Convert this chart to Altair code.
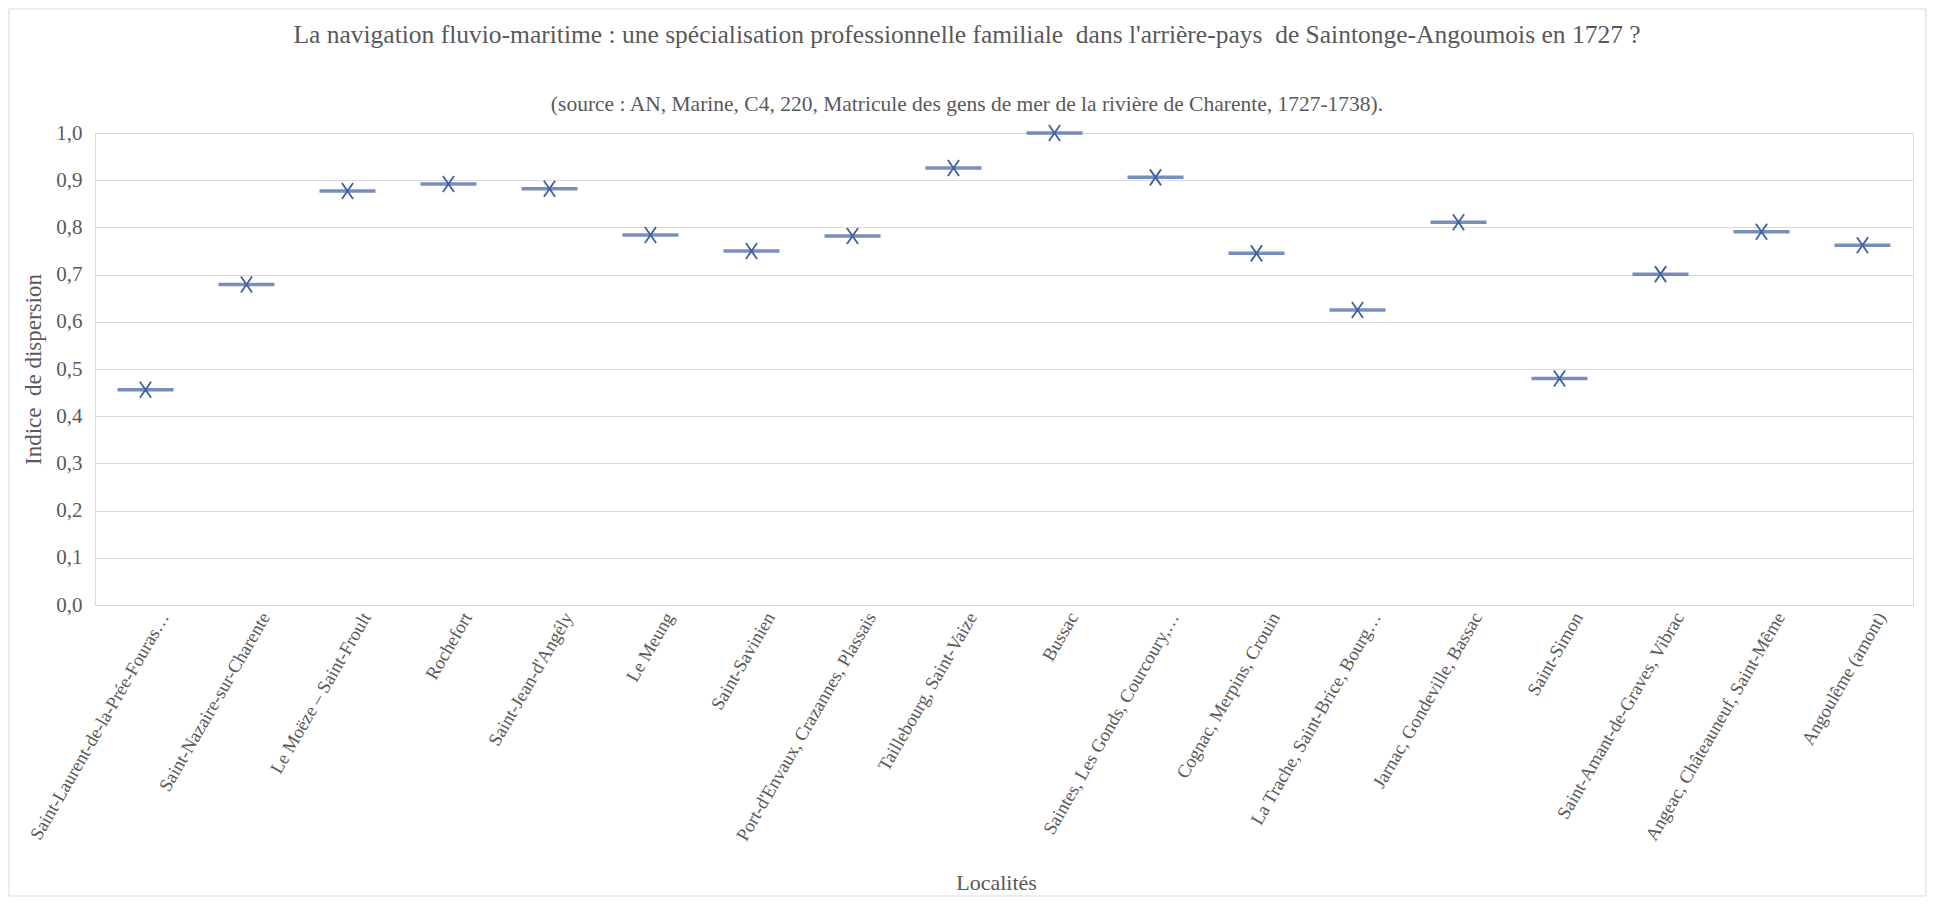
import altair as alt
import pandas as pd

categories = [
    "Saint-Laurent-de-la-Prée-Fouras…",
    "Saint-Nazaire-sur-Charente",
    "Le Moëze – Saint-Froult",
    "Rochefort",
    "Saint-Jean-d'Angély",
    "Le Meung",
    "Saint-Savinien",
    "Port-d'Envaux, Crazannes, Plassais",
    "Taillebourg, Saint-Vaize",
    "Bussac",
    "Saintes, Les Gonds, Courcoury,…",
    "Cognac, Merpins, Crouin",
    "La Trache, Saint-Brice, Bourg…",
    "Jarnac, Gondeville, Bassac",
    "Saint-Simon",
    "Saint-Amant-de-Graves, Vibrac",
    "Angeac, Châteauneuf, Saint-Même",
    "Angoulême (amont)",
]
values = [0.456, 0.679, 0.877, 0.892, 0.882, 0.784, 0.750, 0.782, 0.926,
          1.000, 0.906, 0.745, 0.625, 0.811, 0.480, 0.701, 0.791, 0.762]
y_ticks = [0.0, 0.1, 0.2, 0.3, 0.4, 0.5, 0.6, 0.7, 0.8, 0.9, 1.0]

title_text = ("La navigation fluvio-maritime : une spécialisation professionnelle familiale\u00a0 "
              "dans l'arrière-pays\u00a0 de Saintonge-Angoumois en 1727 ?")
subtitle_text = ("(source : AN, Marine, C4, 220, Matricule des gens de mer de la rivière "
                 "de Charente, 1727-1738).")

df = pd.DataFrame({"Localité": categories, "Indice": values})

FONT = "Liberation Serif"
GREY = "#595959"
BLUE = "#3F5F9E"
W, H = 1818, 472

x_enc = alt.X(
    "Localité:N",
    sort=categories,
    title="Localités",
    axis=alt.Axis(
        labelAngle=-60,
        labelAlign="right",
        labelBaseline="top",
        labelPadding=4,
        labelOffset=11,
        labelLimit=400,
        labelFont=FONT,
        labelFontSize=18.5,
        labelColor=GREY,
        ticks=False,
        domainColor="#D9D9D9",
        titleFont=FONT,
        titleFontSize=22,
        titleFontWeight="normal",
        titleColor=GREY,
        titleY=267,
        titleX=W / 2 - 8,
        titleBaseline="top",
    ),
    scale=alt.Scale(paddingInner=0, paddingOuter=0),
)
y_enc = alt.Y(
    "Indice:Q",
    title="Indice\u00a0 de dispersion",
    scale=alt.Scale(domain=[0, 1], nice=False),
    axis=alt.Axis(
        values=y_ticks,
        labelExpr="replace(format(datum.value, '.1f'), '.', ',')",
        labelFont=FONT,
        labelFontSize=21,
        labelColor=GREY,
        labelPadding=13,
        ticks=False,
        domain=True,
        domainColor="#D9D9D9",
        gridColor="#D9D9D9",
        gridWidth=1,
        titleFont=FONT,
        titleFontSize=23,
        titleFontWeight="normal",
        titleColor=GREY,
        titleX=-62,
        titleBaseline="middle",
    ),
)

base = alt.Chart(df)
dash = base.mark_tick(orient="horizontal", size=56, thickness=3.5, color=BLUE).encode(x=x_enc, y=y_enc)
cross = base.mark_point(
    shape="M-0.7,-1L0.7,1M0.7,-1L-0.7,1",
    filled=False,
    size=256,
    strokeWidth=1.8,
    color=BLUE,
    opacity=1,
).encode(x=x_enc, y=y_enc)

one = pd.DataFrame({"b": [0]})
border = alt.Chart(one).mark_rect(
    fillOpacity=0, stroke="#D9D9D9", strokeWidth=1
).encode(
    x=alt.value(-86), x2=alt.value(W + 13), y=alt.value(-124), y2=alt.value(H + 291)
)
title_mark = alt.Chart(pd.DataFrame({"t": [title_text]})).mark_text(
    font=FONT, fontSize=25.5, color=GREY, align="center", baseline="middle"
).encode(text="t:N", x=alt.value(872), y=alt.value(-98))
subtitle_mark = alt.Chart(pd.DataFrame({"t": [subtitle_text]})).mark_text(
    font=FONT, fontSize=21.5, color=GREY, align="center", baseline="middle"
).encode(text="t:N", x=alt.value(872), y=alt.value(-28))

chart = alt.layer(border, title_mark, subtitle_mark, dash, cross).properties(
    width=W,
    height=H,
    padding={"left": 87, "top": 125, "right": 14, "bottom": 292},
    autosize=alt.AutoSizeParams(type="none"),
).configure_view(stroke=None).configure(background="white")

chart.save("out.html", embed_options={"renderer": "svg", "actions": False})
